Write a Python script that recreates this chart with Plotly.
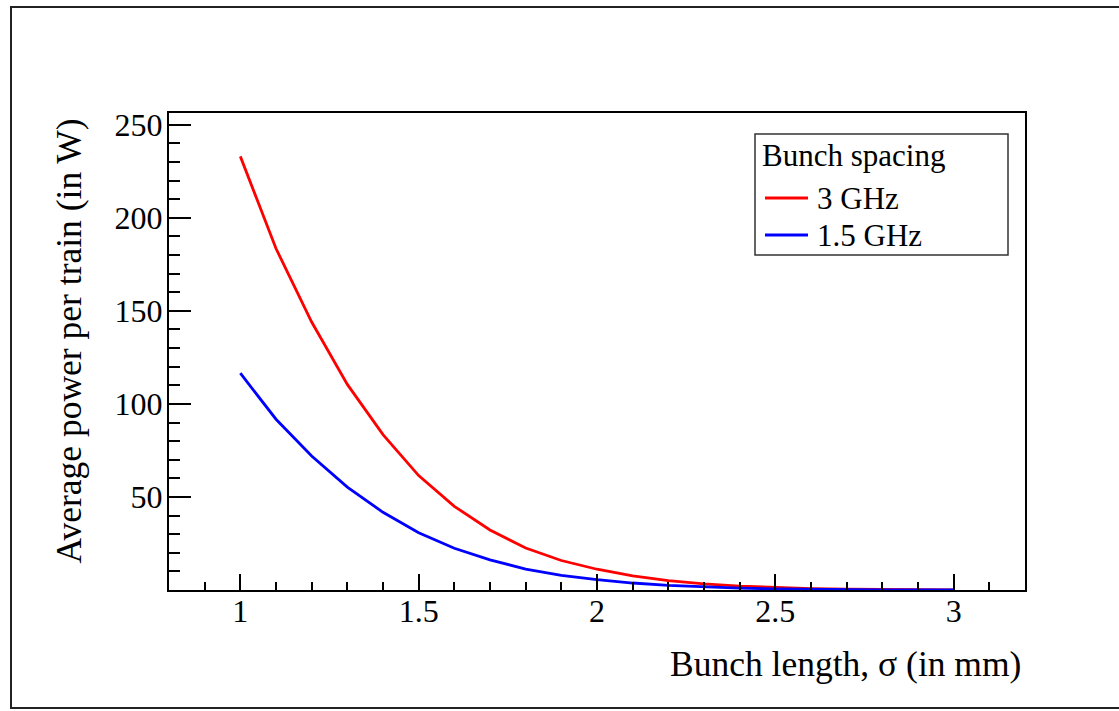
import plotly.graph_objects as go

# ---- data ----
sigma_mm = [1.0, 1.1, 1.2, 1.3, 1.4, 1.5, 1.6, 1.7, 1.8, 1.9, 2.0,
            2.1, 2.2, 2.3, 2.4, 2.5, 2.6, 2.7, 2.8, 2.9, 3.0]
power_3ghz = [233.0, 183.5, 144.0, 110.5, 83.5, 61.5, 45.0, 32.3, 22.6, 15.9, 11.2,
              7.6, 5.1, 3.3, 2.1, 1.3, 0.8, 0.5, 0.3, 0.18, 0.1]
power_1p5ghz = [116.5, 91.8, 72.0, 55.3, 41.8, 30.8, 22.5, 16.2, 11.3, 7.9, 5.6,
                3.8, 2.55, 1.65, 1.05, 0.65, 0.4, 0.25, 0.15, 0.09, 0.05]
series_names = ["3 GHz", "1.5 GHz"]
series_colors = ["#ff0000", "#0000ff"]
legend_title = "Bunch spacing"
x_title = "Bunch length, σ (in mm)"
y_title = "Average power per train (in W)"
y_tickvals = [50, 100, 150, 200, 250]

W, H = 1119, 711
L, R, T, B = 169, 1025, 113, 590
FONT = "Liberation Serif"


def px(x):
    return (x - L) / (R - L)


def py(y):
    return (B - y) / (B - T)


fig = go.Figure()
for name, ys, col in zip(series_names, [power_3ghz, power_1p5ghz], series_colors):
    fig.add_trace(go.Scatter(x=sigma_mm, y=ys, mode="lines", name=name,
                             line=dict(color=col, width=2.8),
                             showlegend=False))

fig.update_layout(
    width=W, height=H,
    margin=dict(l=L, r=W - R, t=T, b=H - B),
    paper_bgcolor="white", plot_bgcolor="white",
    font=dict(family=FONT, color="black", size=32),
    showlegend=False,
)

fig.update_xaxes(
    range=[0.8, 3.2], showgrid=False, zeroline=False,
    showline=True, linecolor="black", linewidth=2, mirror=True,
    ticks="inside", ticklen=16, tickwidth=2, tickcolor="black",
    tick0=0, dtick=0.5, ticklabelstandoff=-8,
    tickfont=dict(family=FONT, size=32, color="black"),
    minor=dict(ticks="inside", ticklen=8, tickwidth=2, tickcolor="black", dtick=0.1, tick0=0, showgrid=False),
)
fig.update_yaxes(
    range=[0.05, 256.3], showgrid=False, zeroline=False,
    showline=True, linecolor="black", linewidth=2, mirror=True,
    ticks="inside", ticklen=22, tickwidth=2, tickcolor="black",
    tickvals=y_tickvals, ticklabelstandoff=-2,
    tickfont=dict(family=FONT, size=32, color="black"),
    minor=dict(ticks="inside", ticklen=11, tickwidth=2, tickcolor="black", dtick=10, tick0=0, showgrid=False),
)

shapes = []
# outer canvas frame
shapes.append(dict(type="rect", xref="paper", yref="paper",
                   x0=px(11), x1=px(1130), y0=py(708), y1=py(7),
                   line=dict(color="#222222", width=2), layer="below"))
# legend box
shapes.append(dict(type="rect", xref="paper", yref="paper",
                   x0=px(755), x1=px(1008), y0=py(255), y1=py(134),
                   line=dict(color="#333333", width=1.5), fillcolor="white"))
annotations = []
annotations.append(dict(text=legend_title, xref="paper", yref="paper",
                        x=px(760), y=py(155), xanchor="left", yanchor="middle",
                        showarrow=False, font=dict(family=FONT, size=31, color="black")))
for i, (name, col) in enumerate(zip(series_names, series_colors)):
    yy = [198, 235][i]
    shapes.append(dict(type="line", xref="paper", yref="paper",
                       x0=px(765), x1=px(808), y0=py(yy), y1=py(yy),
                       line=dict(color=col, width=2.8)))
    annotations.append(dict(text=name, xref="paper", yref="paper",
                            x=px(815), y=py(yy), xanchor="left", yanchor="middle",
                            showarrow=False, font=dict(family=FONT, size=31, color="black")))

annotations.append(dict(text=x_title, xref="paper", yref="paper",
                        x=px(1023), y=py(664), xanchor="right", yanchor="middle",
                        showarrow=False, font=dict(family=FONT, size=35.5, color="black")))
annotations.append(dict(text=y_title, xref="paper", yref="paper",
                        x=px(68), y=py(117), xanchor="center", yanchor="top", textangle=-90,
                        showarrow=False, font=dict(family=FONT, size=35.5, color="black")))

fig.update_layout(shapes=shapes, annotations=annotations)
fig.write_html("out.html")
